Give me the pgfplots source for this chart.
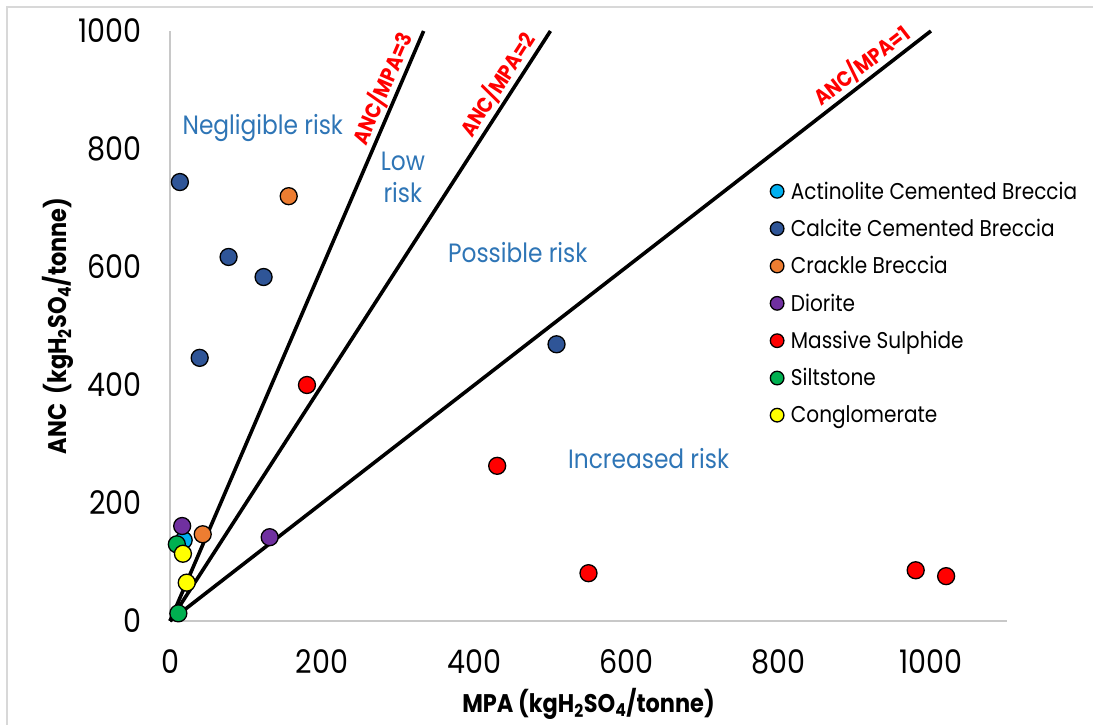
\documentclass[border=0pt]{standalone}
\usepackage{fontspec}
\setmainfont{Poppins}[FakeStretch=0.88]
\usepackage{pgfplots}
\pgfplotsset{compat=1.18}

\definecolor{actinolite}{HTML}{00B0F0}
\definecolor{calcite}{HTML}{2F5597}
\definecolor{crackle}{HTML}{ED7D31}
\definecolor{diorite}{HTML}{7030A0}
\definecolor{sulphide}{HTML}{FF0000}
\definecolor{siltstone}{HTML}{00B050}
\definecolor{conglom}{HTML}{FFFF00}
\definecolor{riskblue}{HTML}{2E75B6}
\definecolor{axisgray}{HTML}{C8C8C8}

\pgfplotsset{
  sample/.style={only marks, mark=*, mark size=8.5pt,
    mark options={draw=black, line width=1.3pt, fill=#1}},
  ratioline/.style={black, line width=3.6pt, no marks, forget plot},
}

\begin{document}
\begin{tikzpicture}[x=1pt,y=1pt]
\useasboundingbox (0,0) rectangle (1093,725);
\draw[axisgray!70, line width=1.5pt] (7,0) -- (7,718) -- (1093,718);
\begin{axis}[
  at={(170pt,104pt)}, anchor=south west,
  scale only axis, width=837pt, height=590pt,
  xmin=0, xmax=1100, ymin=0, ymax=1000,
  xtick={0,200,...,1000}, ytick={0,200,...,1000},
  axis x line*=bottom, axis y line*=left,
  axis line style={-, draw=axisgray, line width=1.3pt},
  major tick length=0pt,
  /pgf/number format/assume math mode=true,
  /pgf/number format/1000 sep={},
  tick label style={font=\fontsize{32.5}{36}\selectfont},
  xticklabel style={anchor=center, inner sep=0pt, yshift=-41pt},
  yticklabel style={anchor=east, inner sep=0pt, xshift=-28pt},
  xlabel={\textbf{MPA (kgH\textsubscript{2}SO\textsubscript{4}/tonne)}},
  ylabel={\textbf{ANC\ \ (kgH\textsubscript{2}SO\textsubscript{4}/tonne)}},
  label style={font=\fontsize{25.5}{30}\selectfont},
  xlabel style={at={(rel axis cs:0.5,0)}, anchor=center, yshift=-83pt},
  ylabel style={at={(rel axis cs:0,0.5)}, anchor=center, yshift=112pt},
  clip=false,
  legend style={draw=none, fill=none, at={(rel axis cs:0.717,0.748)},
    anchor=north west, font=\fontsize{22.8}{27}\selectfont,
    row sep=14.5pt, column sep=5pt, inner sep=0pt, cells={anchor=west}},
  legend image code/.code={\draw[#1, mark size=6.8pt, line width=1.1pt] plot coordinates {(0pt,0pt)};},
]
% ratio lines
\addplot[ratioline] coordinates {(0,0) (333.33,1000)};
\addplot[ratioline] coordinates {(0,0) (500,1000)};
\addplot[ratioline] coordinates {(0,0) (1000,1000)};

\addplot[sample=actinolite] coordinates {(18,137)};
\addlegendentry{Actinolite Cemented Breccia}
\addplot[sample=calcite] coordinates {(13,744) (77,617) (123,583) (39,446) (508,469)};
\addlegendentry{Calcite Cemented Breccia}
\addplot[sample=crackle] coordinates {(156,720) (43,147)};
\addlegendentry{Crackle Breccia}
\addplot[sample=diorite] coordinates {(16,161) (131,142)};
\addlegendentry{Diorite}
\addplot[sample=sulphide] coordinates {(180,400) (430,263) (550,81) (980,86) (1020,76)};
\addlegendentry{Massive Sulphide}
\addplot[sample=siltstone] coordinates {(9,130) (11,13)};
\addlegendentry{Siltstone}
\addplot[sample=conglom] coordinates {(17,114) (22,65)};
\addlegendentry{Conglomerate}

% risk zones
\begin{scope}[every node/.style={text=riskblue, font=\fontsize{26.5}{32}\selectfont, align=center}]
\node at (axis cs:122,835) {Negligible risk};
\node at (axis cs:306,752) {Low\\risk};
\node at (axis cs:457,625) {Possible risk};
\node at (axis cs:629,276) {Increased risk};
\end{scope}

% ratio line labels
\begin{scope}[every node/.style={text=red, font=\fontsize{21.5}{25}\selectfont\bfseries, anchor=south, inner sep=3pt}]
\node[rotate=66.7] at (axis cs:297.5,892.5) {ANC/MPA=3};
\node[rotate=57.14] at (axis cs:447.5,895) {ANC/MPA=2};
\node[rotate=37.76] at (axis cs:921,921) {ANC/MPA=1};
\end{scope}
\end{axis}
\end{tikzpicture}
\end{document}
